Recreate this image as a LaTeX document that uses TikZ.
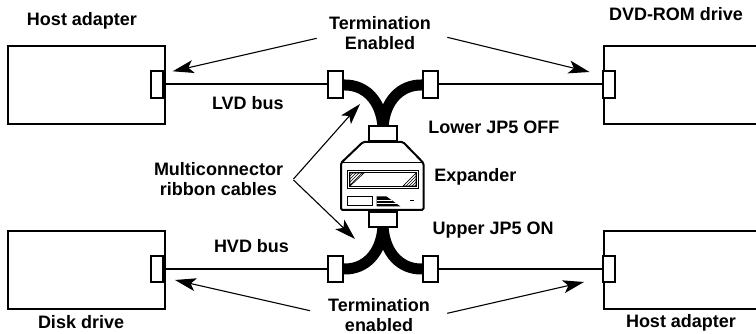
\documentclass[tikz,border=0pt]{standalone}
\usepackage{fontspec}
\setmainfont{Liberation Sans}
\usetikzlibrary{arrows.meta,patterns}
\tikzset{
  x=1pt,y=-1pt,
  lbl/.style={font=\fontsize{18}{20}\selectfont\bfseries,align=center,inner sep=0pt,outer sep=0pt},
  lblw/.style={lbl,anchor=base west},
  device/.style={draw,line width=2pt,fill=white,rectangle,inner sep=0pt,anchor=north west,minimum width=157pt,minimum height=78pt},
  smallconn/.style={draw,line width=1.8pt,fill=white,rectangle,inner sep=0pt,minimum width=12pt,minimum height=26.5pt},
  midconn/.style={draw,line width=2pt,fill=white,rectangle,inner sep=0pt,minimum width=15pt,minimum height=26.5pt},
  expconn/.style={draw,line width=2pt,fill=white,rectangle,inner sep=0pt,minimum width=27.5pt,minimum height=15.5pt},
  bus/.style={line width=2pt},
  ribbon/.style={line width=11pt},
  callout/.style={line width=1.1pt,-{Stealth[length=21pt,width=13pt,inset=5pt]}},
}
\begin{document}
\begin{tikzpicture}
\useasboundingbox (0,0) rectangle (756,334);
% devices
\node[device] (hostTL) at (6.5,45) {};
\node[device] (diskBL) at (6.5,230) {};
\node[device,minimum width=170pt] (dvdTR) at (603,45) {};
\node[device,minimum width=170pt] (hostBR) at (603,230) {};
% device connectors
\node[smallconn] (cTL) at (157,84.5) {};
\node[smallconn] (cBL) at (157,269) {};
\node[smallconn] (cTR) at (609,84.5) {};
\node[smallconn] (cBR) at (609,269) {};
% expander connectors (reference points for ribbons)
\coordinate (eTtop) at (383,127);
\coordinate (eBbot) at (383,227);
% ribbon connector positions
\coordinate (pTL) at (335.8,84.5);
\coordinate (pTR) at (430,84.5);
\coordinate (pBL) at (335.8,269);
\coordinate (pBR) at (430,269);
% ribbons
\draw[ribbon] (pTL) -- (345,85) .. controls (365,85) and (381,100) .. (eTtop);
\draw[ribbon] (pTR) -- (421,85) .. controls (401,85) and (385,100) .. (eTtop);
\draw[ribbon] (pBL) -- (345,269) .. controls (365,269) and (381,254) .. (eBbot);
\draw[ribbon] (pBR) -- (421,269) .. controls (401,269) and (385,254) .. (eBbot);
% connectors over the ribbons
\node[midconn] (mTL) at (pTL) {};
\node[midconn] (mTR) at (pTR) {};
\node[midconn] (mBL) at (pBL) {};
\node[midconn] (mBR) at (pBR) {};
\node[expconn] (eT) at (383,133.5) {};
\node[expconn] (eB) at (383,219.5) {};
% buses
\draw[bus] (cTL.east) -- (mTL.west);
\draw[bus] (mTR.east) -- (cTR.west);
\draw[bus] (cBL.east) -- (mBL.west);
\draw[bus] (mBR.east) -- (cBR.west);
% expander
\draw[line width=2pt,fill=white,line join=round,rounded corners=1.5pt]
  (363,142) -- (403,142) -- (423.5,163) -- (423.5,210) -- (341,210) -- (341,163) -- cycle;
\draw[line width=1pt] (342,163) -- (423,163);
\draw[line width=1pt] (347.5,170.5) rectangle (418.5,188.5);
\draw[line width=0.8pt] (349.5,172.5) rectangle (416.5,186.5);
\fill[pattern=north east lines] (350,173) -- (364,173) -- (350,186) -- cycle;
\draw[line width=0.7pt] (350,173) -- (364,173) -- (350,186) -- cycle;
\fill[pattern=north east lines] (416,173) -- (416,186) -- (403,186) -- cycle;
\draw[line width=0.7pt] (416,173) -- (416,186) -- (403,186) -- cycle;
\draw[line width=1pt] (347,197) rectangle (372.5,205.5);
\fill (376.5,196.5) -- (386.5,196.5) -- (400.5,206.5) -- (376.5,206.5) -- cycle;
\draw[white,line width=0.5pt] (376.5,199.8) -- (392,199.8) (376.5,203.1) -- (397,203.1);
\draw[line width=1pt] (410,200.5) -- (414,200.5);
% labels
\node[lblw] (tHost) at (27,26) {Host adapter};
\node[lblw] (tDvd) at (609,20.7) {DVD-ROM drive};
\node[lblw] (tDisk) at (38,328.3) {Disk drive};
\node[lblw] (tHostB) at (626,327.3) {Host adapter};
\node[lbl,anchor=base] (tTermT) at (380,30) {Termination};
\node[lbl,anchor=base] (tEn) at (380,49.5) {Enabled};
\node[lbl,anchor=base] (tTermB) at (379,311.7) {Termination};
\node[lbl,anchor=base] (ten) at (379,331.5) {enabled};
\node[lblw] (tLvd) at (212,110) {LVD bus};
\node[lblw] (tHvd) at (214,252.7) {HVD bus};
\node[lblw] (tLower) at (428.3,133.3) {Lower JP5 OFF};
\node[lblw] (tUpper) at (432.7,235) {Upper JP5 ON};
\node[lblw] (tExp) at (434.3,181.7) {Expander};
\node[lbl,anchor=base] (tMulti) at (218.5,175.7) {Multiconnector};
\node[lbl,anchor=base] (tRib) at (218.5,196) {ribbon cables};
% callouts
\coordinate (aTL) at (172.7,71.3);
\coordinate (aTR) at (589.5,72);
\coordinate (aBL) at (175,280);
\coordinate (aBR) at (584,282);
\coordinate (aMU) at (360,104);
\coordinate (aML) at (355,239);
\coordinate (sTL) at (316.7,38.3);
\coordinate (sTR) at (447.3,37.3);
\coordinate (sBL) at (310,310.7);
\coordinate (sBR) at (447.3,313.3);
\coordinate (sMU) at (293.5,179);
\coordinate (sML) at (293.5,180);
\draw[callout] (sTL) -- (aTL);
\draw[callout] (sTR) -- (aTR);
\draw[callout] (sBL) -- (aBL);
\draw[callout] (sBR) -- (aBR);
\draw[callout] (sMU) -- (aMU);
\draw[callout] (sML) -- (aML);
\end{tikzpicture}
\end{document}
